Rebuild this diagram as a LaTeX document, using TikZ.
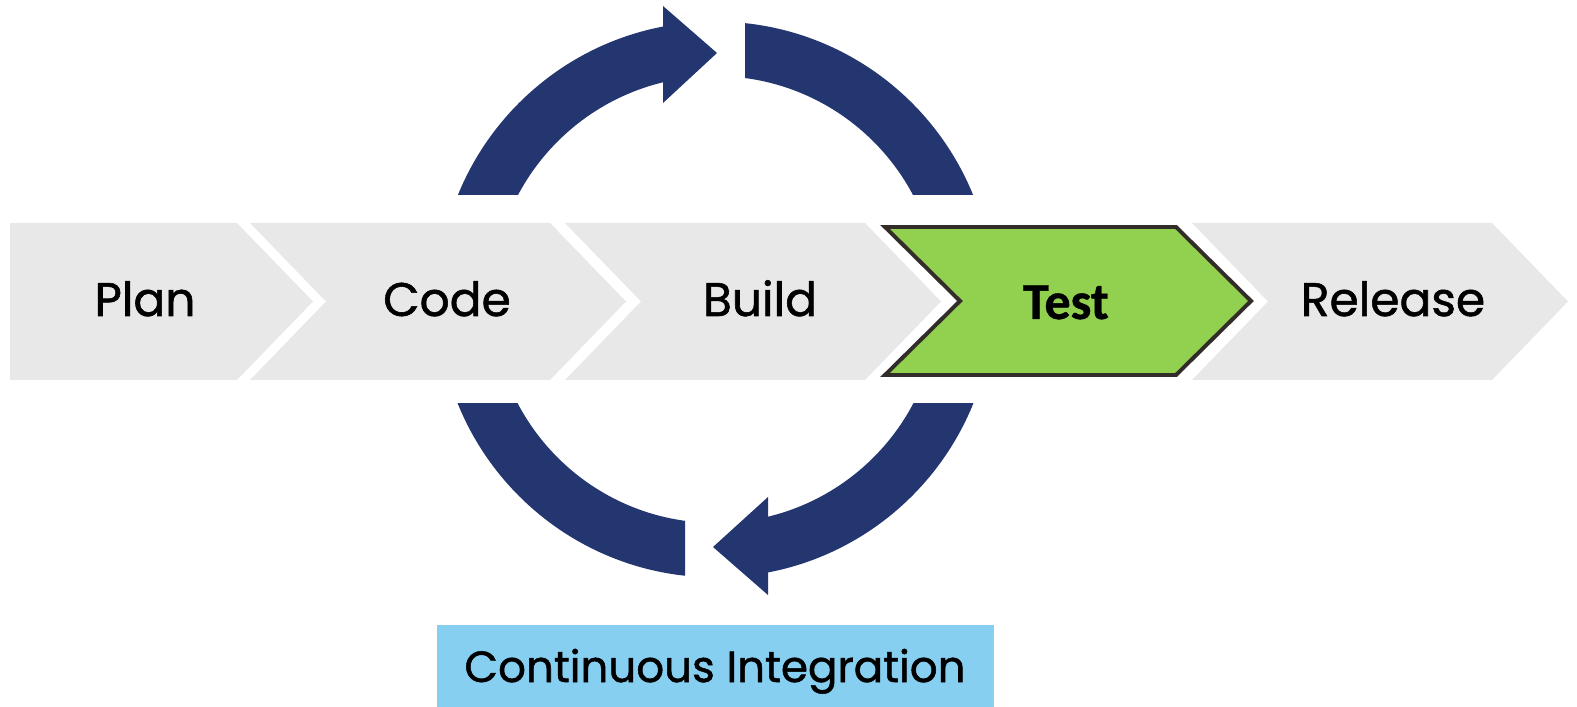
\documentclass[tikz,border=0pt]{standalone}
\usepackage{fontspec}
\setmainfont{Poppins}
\newfontfamily\lblfont{Poppins}[FakeBold=1.2]
\newfontfamily\testfont{Carlito}[FakeBold=0.8]
\usepackage{tikz}

\definecolor{chevgray}{RGB}{232,232,232}
\definecolor{cycblue}{RGB}{36,54,112}
\definecolor{testgreen}{RGB}{146,208,80}
\definecolor{testline}{RGB}{50,45,40}
\definecolor{ciblue}{RGB}{135,207,241}

\begin{document}
\begin{tikzpicture}[x=0.025cm, y=-0.025cm,
    chev/.style={fill=chevgray},
    testbox/.style={fill=testgreen, draw=testline, line width=2.8pt, line join=miter},
    lbl/.style={anchor=base, text=black, font=\lblfont\fontsize{33.5}{40}\selectfont}]
    \def \cx {715.5}
    \def \cy {299.5}
    \def \rout {277.9} % outer radius of the cycle
    \def \rin {223.4}  % inner radius of the cycle
    \useasboundingbox (0,0) rectangle (1577,707);
    % the cycle: one ring, cut into four pieces
    \foreach \xa/\xb/\ya/\yb in {400/664/0/195, 745/1000/0/195, 767/1000/404/620, 400/685/404/620}
    {
      \begin{scope}
        \clip (\xa,\ya) rectangle (\xb,\yb);
        \fill[cycblue, even odd rule] (\cx,\cy) circle (\rout) (\cx,\cy) circle (\rin);
      \end{scope}
    }
    \fill[cycblue] (663,6) -- (717,53) -- (663,103) -- cycle;
    \fill[cycblue] (768,497) -- (713,547) -- (768,595) -- cycle;
    % stages
    \fill[chev] (10,223) -- (237,223) -- (313,301.5) -- (237,380) -- (10,380) -- cycle;
    \foreach \l in {250,565,1192}
      \fill[chev] (\l,223) -- ++(300,0) -- ++(76,78.5) -- ++(-76,78.5) -- ++(-300,0) -- ++(76,-78.5) -- cycle;
    \draw[testbox] (885,227) -- (1176,227) -- (1251,301) -- (1176,375) -- (885,375) -- (960,301) -- cycle;
    \node[lbl] (plan) at (145,316) {Plan};
    \node[lbl] (code) at (447,316) {Code};
    \node[lbl] (build) at (760,316) {Build};
    \node[lbl, font=\testfont\bfseries\fontsize{37}{44}\selectfont] (test) at (1066,319) {Test};
    \node[lbl] (release) at (1393,316) {Release};
    % label under the cycle
    \fill[ciblue] (437,625) rectangle (994,707);
    \node[lbl, font=\lblfont\fontsize{31}{38}\selectfont] (ci) at (715,682) {Continuous Integration};
\end{tikzpicture}
\end{document}
